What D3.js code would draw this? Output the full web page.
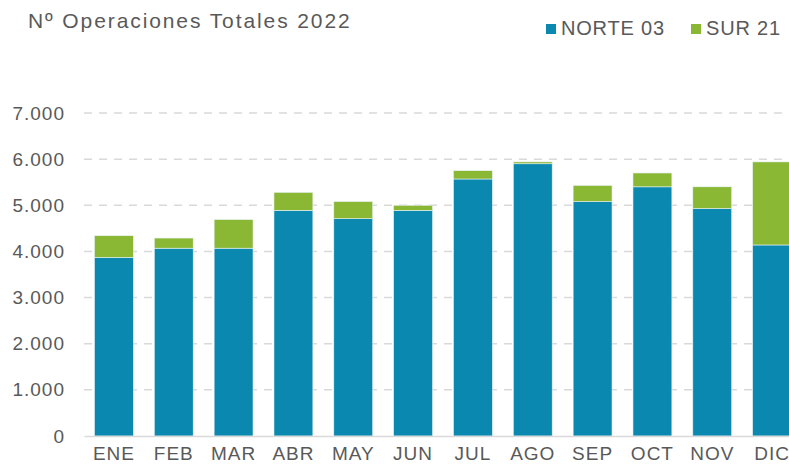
<!DOCTYPE html>
<html lang="es">
<head>
<meta charset="UTF-8">
<title>Nº Operaciones Totales 2022</title>
<script src="https://cdnjs.cloudflare.com/ajax/libs/d3/7.8.5/d3.min.js"></script>
<style>
  body { margin: 0; background: #fff; }
  svg { display: block; font-family: "Liberation Sans", Arial, sans-serif; }
  .grid line { stroke: #d9d9d9; stroke-width: 1.5; stroke-dasharray: 8 7; }
  .tick text { fill: #595959; letter-spacing: 1px; }
</style>
</head>
<body>
<div id="wrapper"></div>
<script>
// datos
const meses = ['ENE', 'FEB', 'MAR', 'ABR', 'MAY', 'JUN', 'JUL', 'AGO', 'SEP', 'OCT', 'NOV', 'DIC']
const norte03 = [3870, 4070, 4070, 4890, 4710, 4890, 5570, 5900, 5080, 5400, 4930, 4140]
const sur21 = [470, 220, 620, 390, 370, 110, 180, 40, 350, 300, 470, 1800]
const yTicks = [0, 1000, 2000, 3000, 4000, 5000, 6000, 7000]
const series = ['NORTE 03', 'SUR 21']
const colores = ['#0a88b0', '#8ab734']

const width = 789
const height = 472
const margin = { top: 113, right: -13, bottom: 36, left: 84 }
const boundedWidth = width - margin.left - margin.right
const boundedHeight = height - margin.top - margin.bottom

const svg = d3.select('#wrapper').append('svg')
  .attr('width', width)
  .attr('height', height)

const bounds = svg.append('g')
  .attr('transform', `translate(${margin.left},${margin.top})`)

const x = d3.scaleBand()
  .domain(meses)
  .range([0, boundedWidth])
  .paddingInner(0.35)
  .paddingOuter(0.175)

const y = d3.scaleLinear()
  .domain([0, 7000])
  .range([boundedHeight, 0])

// grid
bounds.append('g')
  .attr('class', 'grid')
  .selectAll('line')
  .data(yTicks.filter(d => d > 0))
  .join('line')
    .attr('x1', 0)
    .attr('x2', boundedWidth)
    .attr('y1', d => y(d))
    .attr('y2', d => y(d))

// stack
const tabla = meses.map((m, i) => ({ mes: m, 'NORTE 03': norte03[i], 'SUR 21': sur21[i] }))
const stacked = d3.stack().keys(series)(tabla)

bounds.append('g')
  .selectAll('g')
  .data(stacked)
  .join('g')
    .attr('fill', (d, i) => colores[i])
  .selectAll('rect')
  .data(d => d)
  .join('rect')
    .attr('x', d => x(d.data.mes))
    .attr('y', d => y(d[1]))
    .attr('width', x.bandwidth())
    .attr('height', d => y(d[0]) - y(d[1]))
    .attr('stroke', '#e8f2f5')
    .attr('stroke-width', 0.6)

// eje y
const yAxis = bounds.append('g')
  .call(d3.axisLeft(y).tickValues(yTicks).tickSize(0).tickPadding(19)
    .tickFormat(d => d3.format(',')(d).replace(/,/g, '.')))
yAxis.select('.domain').remove()
yAxis.selectAll('text').style('font-size', '19px')

// eje x
const xAxis = bounds.append('g')
  .attr('transform', `translate(0,${boundedHeight})`)
  .call(d3.axisBottom(x).tickSize(0).tickPadding(11))
xAxis.select('.domain')
  .attr('stroke', '#d9d9d9')
  .attr('stroke-width', 1.5)
xAxis.selectAll('text').style('font-size', '19px')

// titulo
svg.append('text')
  .attr('x', 28)
  .attr('y', 28)
  .attr('fill', '#595959')
  .style('font-size', '21px')
  .style('letter-spacing', '1.9px')
  .text('Nº Operaciones Totales 2022')

// leyenda
const legendPos = [546, 691]
const legend = svg.append('g')
  .selectAll('g')
  .data(series)
  .join('g')
    .attr('transform', (d, i) => `translate(${legendPos[i]},0)`)
legend.append('rect')
  .attr('y', 24)
  .attr('width', 10)
  .attr('height', 10)
  .attr('fill', (d, i) => colores[i])
legend.append('text')
  .attr('x', 15)
  .attr('y', 35)
  .attr('fill', '#595959')
  .style('font-size', '20px')
  .style('letter-spacing', '0.8px')
  .text(d => d)
</script>
</body>
</html>
